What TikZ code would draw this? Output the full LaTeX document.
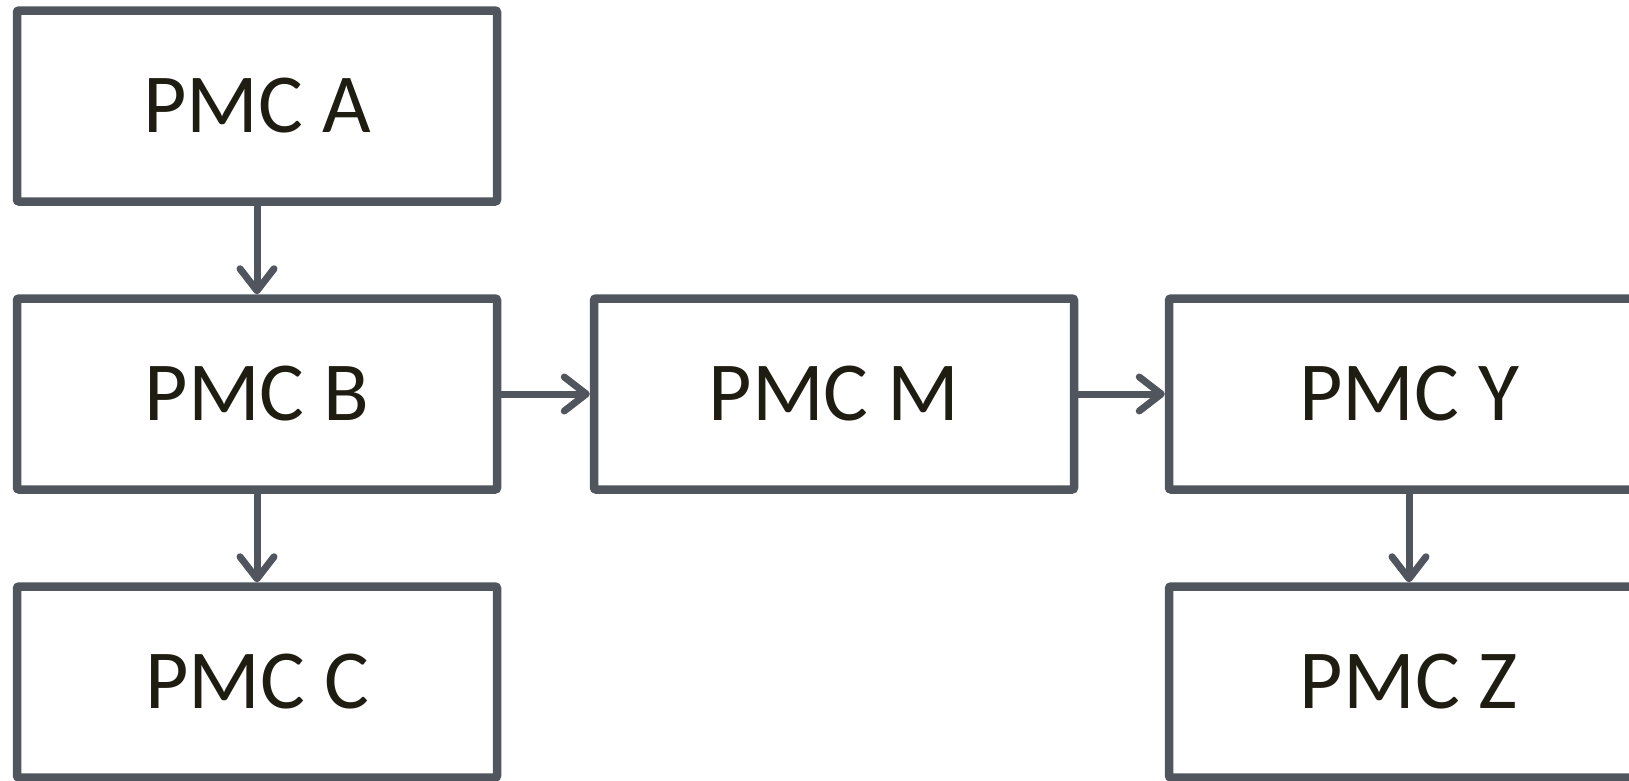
\documentclass[tikz,border=0pt]{standalone}
\usepackage{fontspec}
\setmainfont{Carlito}
\usetikzlibrary{arrows.meta}
\definecolor{boxline}{HTML}{51565E}
\definecolor{boxtext}{HTML}{1F1D12}
\tikzset{
  pmcbox/.style={draw=boxline, line width=8.5pt, rectangle, rounded corners=2pt,
    minimum width=480pt, minimum height=191pt, inner sep=0pt,
    text=boxtext, font=\fontsize{84}{90}\selectfont},
  link/.style={draw=boxline, line width=7pt,
    -{Straight Barb[length=22pt, width=34pt, line cap=round, line join=round]}}
}
\begin{document}
\begin{tikzpicture}[x=1pt, y=1pt]
  \useasboundingbox (0,0) rectangle (1629,-780);
  % left column
  \node[pmcbox] (a) at (257,-106) {PMC A};
  \node[pmcbox] (b) at (257,-394) {PMC B};
  \node[pmcbox] (c) at (257,-682) {PMC C};
  % middle and right
  \node[pmcbox] (m) at (834,-394) {PMC M};
  \node[pmcbox] (y) at (1409,-394) {PMC Y};
  \node[pmcbox] (z) at (1409,-682) {PMC Z};
  % connectors
  \draw[link] (a) -- (b);
  \draw[link] (b) -- (c);
  \draw[link] (b) -- (m);
  \draw[link] (m) -- (y);
  \draw[link] (y) -- (z);
\end{tikzpicture}
\end{document}
